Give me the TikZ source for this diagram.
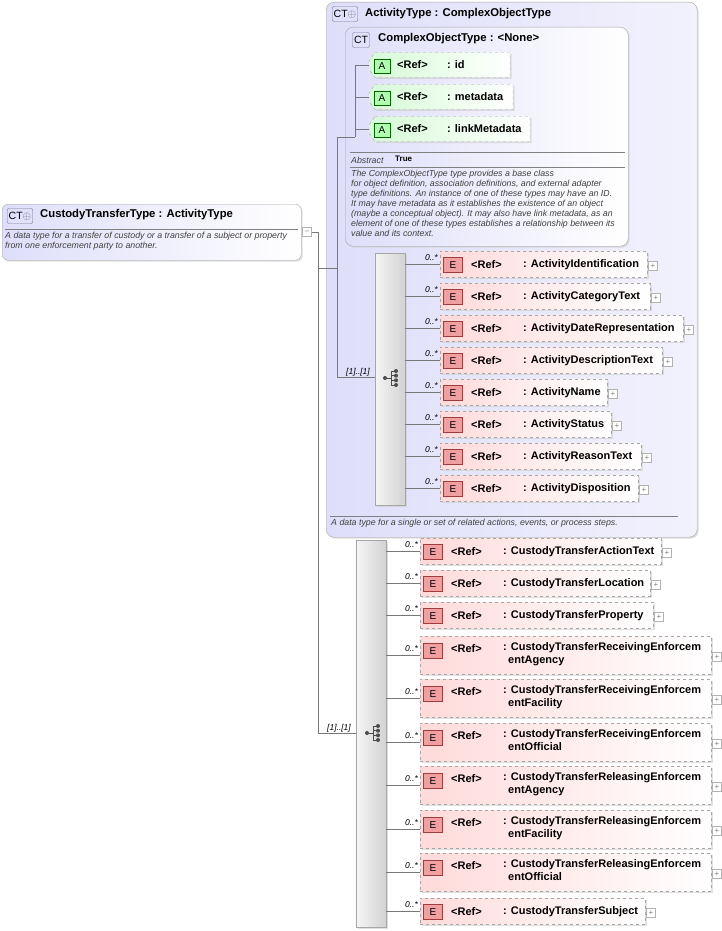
\documentclass[tikz,border=0pt]{standalone}
\usepackage{fontspec}
\setmainfont{Liberation Sans}
\usetikzlibrary{shadows}
\definecolor{lav}{RGB}{222,222,250}
\definecolor{lavb}{RGB}{150,150,170}
\definecolor{pinkf}{RGB}{255,218,218}
\definecolor{greenf}{RGB}{214,250,214}
\definecolor{ered}{RGB}{240,160,160}
\definecolor{ebord}{RGB}{160,60,60}
\definecolor{ln}{RGB}{120,120,120}
\tikzset{
  conn/.style={draw=ln,line width=0.6pt},
  elem/.style={draw=gray!70,dashed,left color=pinkf,right color=white,anchor=west,inner sep=0pt,drop shadow={shadow xshift=1.5pt,shadow yshift=-1.5pt,fill=gray!40,opacity=0.6}},
  attr/.style={draw=gray!70,dashed,left color=greenf,right color=white},
  ebadge/.style={draw=ebord,fill=ered,minimum width=19pt,minimum height=15pt,inner sep=0pt,font=\fontsize{10}{10}\selectfont},
  abadge/.style={draw=black!60!green,fill=green!30,minimum width=16pt,minimum height=14pt,inner sep=0pt,font=\fontsize{10}{10}\selectfont},
  nm/.style={anchor=west,inner sep=0pt,font=\bfseries\fontsize{11}{13}\selectfont,align=left},
  card/.style={inner sep=0pt,font=\itshape\fontsize{8.5}{9}\selectfont,anchor=south east},
  plusb/.style={draw=gray!60,fill=white,minimum size=9pt,inner sep=0pt,font=\fontsize{8}{8}\selectfont\color{gray},text height=5pt},
  comp/.style={draw=gray!70,left color=gray!8,right color=gray!35,inner sep=0pt,anchor=north west,drop shadow={shadow xshift=1.5pt,shadow yshift=-1.5pt,fill=gray!40,opacity=0.6}},
  ctb/.style={draw=lavb!80!black,fill=lav!70!blue!30,rounded corners=2pt,minimum height=15pt,inner sep=1.5pt,font=\fontsize{10.5}{10.5}\selectfont},
  desc/.style={inner sep=0pt,anchor=north west,font=\itshape\fontsize{8.8}{10}\selectfont,align=left,text=black!75},
  hd/.style={nm,font=\bfseries\fontsize{11.3}{13}\selectfont},
}
% #1 name, #2 y, #3 xl, #4 xr, #5 text, #6 compositor x-right
\newcommand\Elem[6]{%
  \node[elem,minimum width=#4-#3,minimum height=26] (#1) at (#3,#2) {};
  \node[ebadge] (#1b) at (#3+13,#2+1) {E};
  \node[nm] (#1r) at (#3+31,#2+0.5) {<Ref>};
  \node[nm] (#1n) at (#3+83,#2+0.5) {: #5};
  \node[plusb] (#1p) at (#4+6,#2+2) {+};
  \draw[conn] (#6,#2) -- (#1.west);
  \node[card] (#1c) at (#3-2,#2-3) {0..*};
}
\newcommand\ElemT[7]{%
  \node[elem,minimum width=#4-#3,minimum height=38] (#1) at (#3,#2) {};
  \node[ebadge] (#1b) at (#3+13,#2-4) {E};
  \node[nm] (#1r) at (#3+31,#2-6) {<Ref>};
  \node[nm,anchor=north west] (#1n) at (#3+83,#2-13) {: #5\\\hspace*{5pt}#7};
  \node[plusb] (#1p) at (#4+6,#2+2) {+};
  \draw[conn] (#6,#2) -- (#1.west);
  \node[card] (#1c) at (#3-2,#2-3) {0..*};
}
\newcommand\Attr[5]{% name y xl xr text
  \path[attr,drop shadow={shadow xshift=1.5pt,shadow yshift=-1.5pt,fill=gray!40,opacity=0.6}] (#3,#2-12.5) -- (#4,#2-12.5) -- (#4,#2+12.5) -- (#3,#2+12.5) -- (#3-6,#2+4) -- (#3-6,#2-4) -- cycle;
  \coordinate (#1) at (#3-6,#2);
  \node[abadge] (#1b) at (#3+7,#2+1) {A};
  \node[nm] (#1r) at (#3+22,#2) {<Ref>};
  \node[nm] (#1n) at (#3+72,#2) {: #5};
}
\newcommand\SeqIcon[2]{%
  \fill[black!70] (#1-7,#2) circle (2);
  \draw[black!70,line width=1pt] (#1-7,#2) -- (#1-1,#2) (#1-1,#2-7) -- (#1-1,#2+7)
   (#1-1,#2-7) -- (#1+4,#2-7) (#1-1,#2-2.3) -- (#1+4,#2-2.3) (#1-1,#2+2.3) -- (#1+4,#2+2.3) (#1-1,#2+7) -- (#1+4,#2+7);
  \foreach \k in {-7,-2.3,2.3,7} \fill[black!70] (#1+4,#2+\k) circle (2);
}
\begin{document}
\begin{tikzpicture}[x=1pt,y=-1pt]
\useasboundingbox (0,0) rectangle (722,931);
\fill[white] (0,0) rectangle (722,931);
% ActivityType box
\node[draw=gray!70,rounded corners=8pt,left color=lav,right color=lav!40,minimum width=371,minimum height=535,anchor=north west,inner sep=0pt,drop shadow={shadow xshift=1.5pt,shadow yshift=-1.5pt,fill=gray!40,opacity=0.6}] (act) at (326,2) {};
\node[ctb] (actb) at (345,14) {CT\textcolor{black!60}{\ensuremath{\oplus}}};
\node[hd] (actt) at (365,14) {ActivityType : ComplexObjectType};
% ComplexObjectType box
\node[draw=gray!70,rounded corners=8pt,left color=lav,right color=white,minimum width=283,minimum height=219,anchor=north west,inner sep=0pt,drop shadow={shadow xshift=1.5pt,shadow yshift=-1.5pt,fill=gray!40,opacity=0.6}] (cot) at (345,27) {};
\node[ctb] (cotb) at (361,40) {CT};
\node[hd] (cott) at (378,39) {ComplexObjectType : <None>};
\Attr{aid}{65}{375}{510}{id}
\Attr{ameta}{97}{375}{513}{metadata}
\Attr{alink}{129}{375}{530}{linkMetadata}
\draw[gray] (350,152) -- (625,152) (350,167) -- (625,167);
\node[desc,anchor=west] (abs) at (351,160) {Abstract};
\node[nm,font=\bfseries\fontsize{8}{8}\selectfont] (abst) at (395,159) {True};
\node[desc] (cotd) at (351,170) {The ComplexObjectType type provides a base class\\for object definition, association definitions, and external adapter\\type definitions. An instance of one of these types may have an ID.\\It may have metadata as it establishes the existence of an object\\(maybe a conceptual object). It may also have link metadata, as an\\element of one of these types establishes a relationship between its\\value and its context.};
\coordinate (aj) at (355,137);
\draw[conn] (355,65) -- (aj) (aid) -- (355,65) (ameta) -- (355,97) (alink) -- (355,129);
% sequence 1
\node[comp,minimum width=30,minimum height=252] (seq1) at (375,253) {};
\SeqIcon{392}{378}
\Elem{e1}{264}{440}{647}{ActivityIdentification}{405}
\Elem{e2}{296}{440}{650}{ActivityCategoryText}{405}
\Elem{e3}{328}{440}{683}{ActivityDateRepresentation}{405}
\Elem{e4}{360}{440}{662}{ActivityDescriptionText}{405}
\Elem{e5}{392}{440}{607}{ActivityName}{405}
\Elem{e6}{424}{440}{611}{ActivityStatus}{405}
\Elem{e7}{456}{440}{641}{ActivityReasonText}{405}
\Elem{e8}{488}{440}{638}{ActivityDisposition}{405}
\draw[gray] (330,516) -- (678,516);
\node[desc,anchor=west] (actd) at (331,523) {A data type for a single or set of related actions, events, or process steps.};
\draw[conn] (337,137) -- (aj);
\draw[conn] (337,137) -- (337,377) -- (seq1.west |- 0,377);
\node[card,anchor=south west] (c1) at (346,376) {[1]..[1]};
% CustodyTransferType box
\node[draw=gray!70,rounded corners=6pt,left color=lav,right color=white,minimum width=299,minimum height=56,anchor=north west,inner sep=0pt,drop shadow={shadow xshift=1.5pt,shadow yshift=-1.5pt,fill=gray!40,opacity=0.6}] (ctt) at (2,204) {};
\node[ctb] (cttb) at (20,216) {CT\textcolor{black!60}{\ensuremath{\oplus}}};
\node[hd] (cttt) at (40,215) {CustodyTransferType : ActivityType};
\draw[gray] (5,229) -- (298,229);
\node[desc] (cttd) at (5,232) {A data type for a transfer of custody or a transfer of a subject or property\\from one enforcement party to another.};
\node[draw=gray!60,fill=white,minimum size=9pt,inner sep=0pt,font=\fontsize{8}{8}\selectfont\color{gray}] (ctm) at (307,232) {--};
% sequence 2
\node[comp,minimum width=30,minimum height=387] (seq2) at (356,540) {};
\SeqIcon{374}{733}
\draw[conn] (ctm.east) -- (318,232) -- (318,733) -- (seq2.west |- 0,733);
\draw[conn] (318,268) -- (337,268);
\node[card,anchor=south west] (c2) at (327,732) {[1]..[1]};
\Elem{f1}{551}{420}{661}{CustodyTransferActionText}{386}
\Elem{f2}{583}{420}{650}{CustodyTransferLocation}{386}
\Elem{f3}{615}{420}{653}{CustodyTransferProperty}{386}
\ElemT{f4}{655}{420}{711}{CustodyTransferReceivingEnforcem}{386}{entAgency}
\ElemT{f5}{698}{420}{711}{CustodyTransferReceivingEnforcem}{386}{entFacility}
\ElemT{f6}{742}{420}{711}{CustodyTransferReceivingEnforcem}{386}{entOfficial}
\ElemT{f7}{785}{420}{711}{CustodyTransferReleasingEnforcem}{386}{entAgency}
\ElemT{f8}{829}{420}{711}{CustodyTransferReleasingEnforcem}{386}{entFacility}
\ElemT{f9}{872}{420}{711}{CustodyTransferReleasingEnforcem}{386}{entOfficial}
\Elem{f10}{911}{420}{645}{CustodyTransferSubject}{386}
\end{tikzpicture}
\end{document}
